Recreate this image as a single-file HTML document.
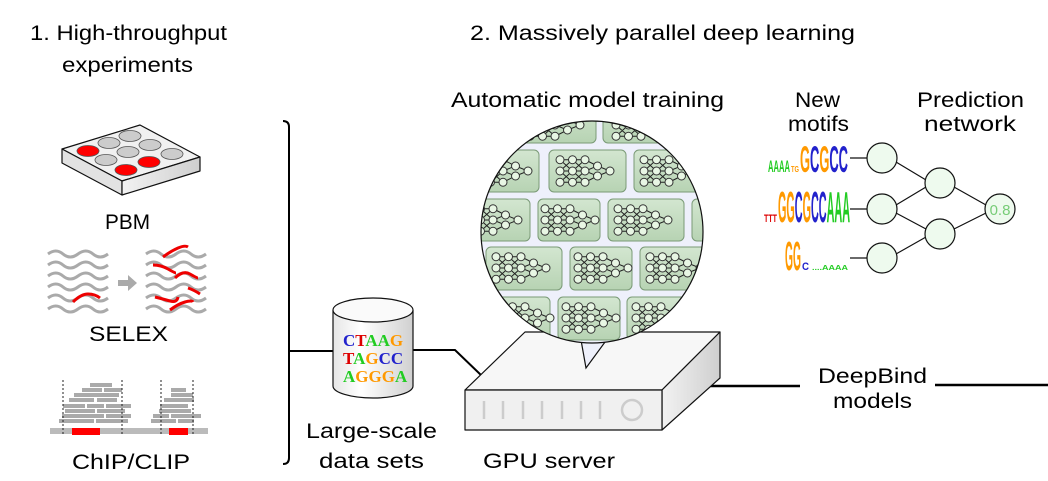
<!DOCTYPE html>
<html><head><meta charset="utf-8"><style>
html,body{margin:0;padding:0;background:#fff;}
svg{display:block;font-family:"Liberation Sans",Arial,sans-serif;}
</style></head><body>
<svg width="1048" height="481" viewBox="0 0 1048 481" xmlns="http://www.w3.org/2000/svg">
<defs>
<linearGradient id="tileg" x1="0" y1="0" x2="0" y2="1"><stop offset="0" stop-color="#d3e6d0"/><stop offset="1" stop-color="#b7d3b3"/></linearGradient>
<linearGradient id="cyl" x1="0" y1="0" x2="1" y2="0"><stop offset="0" stop-color="#e6e6e6"/><stop offset="0.35" stop-color="#fff"/><stop offset="1" stop-color="#d0d0d0"/></linearGradient>
<linearGradient id="side" x1="0" y1="0" x2="1" y2="0"><stop offset="0" stop-color="#f2f2f2"/><stop offset="1" stop-color="#cfcfcf"/></linearGradient>
<clipPath id="bub"><circle cx="592" cy="232" r="111"/></clipPath>
<g id="net">
<g stroke="#222" stroke-width="0.8" fill="none">
<path d="M0,-9 L10,-9 L20,-9 M0,0 L10,0 L20,0 M0,9 L10,9 L20,9 M0,-9 L10,0 L0,9 M10,-9 L0,0 L10,9 M10,-9 L20,0 L10,9 M20,-9 L10,0 L20,9 M20,-9 L30,-4 L20,0 L30,4 L20,9 M30,-4 L40,0 L30,4"/>
</g>
<g fill="#e8f6e4" stroke="#333" stroke-width="0.8">
<circle cx="0" cy="-9" r="3.2"/><circle cx="0" cy="0" r="3.2"/><circle cx="0" cy="9" r="3.2"/>
<circle cx="10" cy="-9" r="3.2"/><circle cx="10" cy="0" r="3.2"/><circle cx="10" cy="9" r="3.2"/>
<circle cx="20" cy="-9" r="3.2"/><circle cx="20" cy="0" r="3.2"/><circle cx="20" cy="9" r="3.2"/>
<circle cx="30" cy="-4" r="3.2"/><circle cx="30" cy="4" r="3.2"/><circle cx="40" cy="0" r="3.2"/>
</g>
</g>
</defs>

<!-- titles -->
<g font-size="21" fill="#000">
<text x="30" y="40" textLength="197" lengthAdjust="spacingAndGlyphs">1. High-throughput</text>
<text x="62" y="72" textLength="131" lengthAdjust="spacingAndGlyphs">experiments</text>
<text x="470" y="40" textLength="385" lengthAdjust="spacingAndGlyphs">2. Massively parallel deep learning</text>
<text x="451" y="107" textLength="273" lengthAdjust="spacingAndGlyphs">Automatic model training</text>
<text x="795" y="107" textLength="45" lengthAdjust="spacingAndGlyphs">New</text>
<text x="788" y="131" textLength="61" lengthAdjust="spacingAndGlyphs">motifs</text>
<text x="917" y="107" textLength="107" lengthAdjust="spacingAndGlyphs">Prediction</text>
<text x="924" y="131" textLength="92" lengthAdjust="spacingAndGlyphs">network</text>
<text x="105" y="229" textLength="45" lengthAdjust="spacingAndGlyphs">PBM</text>
<text x="89" y="341" textLength="79" lengthAdjust="spacingAndGlyphs">SELEX</text>
<text x="72" y="469" textLength="118" lengthAdjust="spacingAndGlyphs">ChIP/CLIP</text>
<text x="306" y="438" textLength="131" lengthAdjust="spacingAndGlyphs">Large-scale</text>
<text x="319" y="468" textLength="105" lengthAdjust="spacingAndGlyphs">data sets</text>
<text x="483" y="468" textLength="132" lengthAdjust="spacingAndGlyphs">GPU server</text>
<text x="818" y="383" textLength="109" lengthAdjust="spacingAndGlyphs">DeepBind</text>
<text x="833" y="408" textLength="79" lengthAdjust="spacingAndGlyphs">models</text>
</g>

<!-- PBM plate -->
<g stroke="#111" stroke-width="1.2" stroke-linejoin="round">
<polygon points="62,149 140,125 200,157 122,181" fill="#f1f1f1"/>
<polygon points="62,149 122,181 122,195 62,163" fill="#e2e2e2"/>
<polygon points="122,181 200,157 200,171 122,195" fill="url(#side)"/>
</g>
<g stroke="#555" stroke-width="0.8">
<ellipse cx="88" cy="151" rx="11" ry="5.5" fill="#f00"/>
<ellipse cx="109" cy="143" rx="11" ry="5.5" fill="#ccc"/>
<ellipse cx="130" cy="136" rx="11" ry="5.5" fill="#ccc"/>
<ellipse cx="106" cy="160" rx="11" ry="5.5" fill="#ccc"/>
<ellipse cx="128" cy="152" rx="11" ry="5.5" fill="#ccc"/>
<ellipse cx="150" cy="145" rx="11" ry="5.5" fill="#ccc"/>
<ellipse cx="126" cy="170" rx="11" ry="5.5" fill="#f00"/>
<ellipse cx="149" cy="162" rx="11" ry="5.5" fill="#f00"/>
<ellipse cx="172" cy="154" rx="11" ry="5.5" fill="#ccc"/>
</g>

<!-- SELEX -->
<g fill="none" stroke="#aaa" stroke-width="3">
<path d="M48,254 q8,-6 15,0 t15,0 t15,0 t15,0"/>
<path d="M48,265 q8,-6 15,0 t15,0 t15,0 t15,0"/>
<path d="M48,276 q8,-6 15,0 t15,0 t15,0 t15,0"/>
<path d="M48,287 q8,-6 15,0 t15,0 t15,0 t15,0"/>
<path d="M48,298 q8,-6 15,0 t15,0 t15,0 t15,0"/>
<path d="M48,309 q8,-6 15,0 t15,0 t15,0 t15,0"/>
<path d="M146,254 q8,-6 15,0 t15,0 t15,0 t15,0"/>
<path d="M146,265 q8,-6 15,0 t15,0 t15,0 t15,0"/>
<path d="M146,276 q8,-6 15,0 t15,0 t15,0 t15,0"/>
<path d="M146,287 q8,-6 15,0 t15,0 t15,0 t15,0"/>
<path d="M146,298 q8,-6 15,0 t15,0 t15,0 t15,0"/>
<path d="M146,309 q8,-6 15,0 t15,0 t15,0 t15,0"/>
</g>
<g fill="none" stroke="#e00" stroke-width="3">
<path d="M73,302 q8,-8 15,-8 t12,4"/>
<path d="M163,257 q8,-6 15,-9 t10,-1"/>
<path d="M153,265 q8,0 15,4 t8,4"/>
<path d="M175,278 q8,-8 15,-4 t8,4"/>
<path d="M188,288 q6,2 12,6"/>
<path d="M155,297 q8,2 15,4 t8,-4"/>
<path d="M170,310 q8,-6 15,-8 t8,0"/>
</g>
<polygon points="118,280 128,280 128,275 137,283 128,291 128,286 118,286" fill="#aaa"/>

<!-- ChIP -->
<rect x="50" y="428" width="158" height="6" fill="#bbb"/>
<g fill="#aaa">
<rect x="59" y="419" width="35" height="4"/><rect x="96" y="419" width="32" height="4"/>
<rect x="62" y="414" width="42" height="4"/><rect x="106" y="414" width="25" height="4"/>
<rect x="65" y="409" width="30" height="4"/><rect x="97" y="409" width="28" height="4"/>
<rect x="63" y="404" width="22" height="4"/><rect x="87" y="404" width="17" height="4"/><rect x="106" y="404" width="25" height="4"/>
<rect x="69" y="398" width="25" height="4"/><rect x="97" y="398" width="20" height="4"/>
<rect x="74" y="393" width="45" height="4"/>
<rect x="82" y="388" width="20" height="4"/><rect x="104" y="388" width="18" height="4"/>
<rect x="90" y="383" width="22" height="4"/>
<rect x="151" y="419" width="25" height="4"/><rect x="178" y="419" width="16" height="4"/>
<rect x="153" y="414" width="16" height="4"/><rect x="171" y="414" width="30" height="4"/>
<rect x="159" y="409" width="32" height="4"/>
<rect x="160" y="404" width="28" height="4"/>
<rect x="164" y="398" width="30" height="4"/>
<rect x="171" y="393" width="22" height="4"/>
<rect x="171" y="388" width="15" height="4"/>
</g>
<rect x="72" y="428" width="28" height="7" fill="#f00"/>
<rect x="169" y="428" width="19" height="7" fill="#f00"/>
<g stroke="#222" stroke-width="1" stroke-dasharray="2,2">
<line x1="63" y1="380" x2="63" y2="436"/><line x1="122" y1="380" x2="122" y2="436"/>
<line x1="161" y1="380" x2="161" y2="436"/><line x1="193" y1="380" x2="193" y2="436"/>
</g>

<!-- bracket and lines -->
<g fill="none" stroke="#000" stroke-width="2">
<path d="M283,121 q6,0 6,6 L289,458 q0,6 -6,6"/>
<line x1="289" y1="351" x2="334" y2="351"/>
<path d="M412,350 L455,350 L482,376"/>
<line x1="692" y1="386" x2="800" y2="386" stroke-width="2.5"/>
<line x1="935" y1="385" x2="1048" y2="385" stroke-width="2.5"/>
</g>

<!-- cylinder -->
<path d="M333,310 L333,386 A40,12 0 0 0 413,386 L413,310" fill="url(#cyl)" stroke="#111" stroke-width="1.2"/>
<ellipse cx="373" cy="310" rx="40" ry="12" fill="#fafafa" stroke="#111" stroke-width="1.2"/>
<g font-family="'Liberation Serif',serif" font-weight="bold" font-size="17">
<text x="343" y="346"><tspan fill="#22c">C</tspan><tspan fill="#d00">T</tspan><tspan fill="#2c2">A</tspan><tspan fill="#2c2">A</tspan><tspan fill="#f90">G</tspan></text>
<text x="343" y="364"><tspan fill="#d00">T</tspan><tspan fill="#2c2">A</tspan><tspan fill="#f90">G</tspan><tspan fill="#22c">C</tspan><tspan fill="#22c">C</tspan></text>
<text x="343" y="382"><tspan fill="#2c2">A</tspan><tspan fill="#f90">G</tspan><tspan fill="#f90">G</tspan><tspan fill="#f90">G</tspan><tspan fill="#2c2">A</tspan></text>
</g>

<!-- server -->
<g stroke="#111" stroke-width="1.2" stroke-linejoin="round">
<polygon points="465,390 525,332 720,332 662,390" fill="#f7f7f7"/>
<polygon points="662,390 720,332 720,378 662,430" fill="url(#side)"/>
<rect x="465" y="390" width="197" height="40" fill="#f0f0f0"/>
</g>
<g stroke="#ccc" stroke-width="2.5">
<line x1="484" y1="401" x2="484" y2="419"/><line x1="503" y1="401" x2="503" y2="419"/>
<line x1="523" y1="401" x2="523" y2="419"/><line x1="542" y1="401" x2="542" y2="419"/>
<line x1="562" y1="401" x2="562" y2="419"/><line x1="581" y1="401" x2="581" y2="419"/>
<line x1="600" y1="401" x2="600" y2="419"/>
</g>
<circle cx="632" cy="410" r="10" fill="none" stroke="#ccc" stroke-width="2.5"/>

<!-- bubble -->
<path d="M581,340 L586,368 L608,338 Z" fill="#eef0fb" stroke="#111" stroke-width="1.2"/>
<circle cx="592" cy="232" r="111" fill="#eef0fb"/>
<g clip-path="url(#bub)">
<g fill="url(#tileg)" stroke="#7a9a76" stroke-width="1">
<rect x="510" y="100" width="86" height="43" rx="5"/><rect x="603" y="100" width="100" height="43" rx="5"/>
<rect x="460" y="150" width="79" height="42" rx="5"/><rect x="549" y="150" width="77" height="42" rx="5"/><rect x="634" y="150" width="70" height="42" rx="5"/>
<rect x="460" y="199" width="70" height="42" rx="5"/><rect x="538" y="199" width="62" height="42" rx="5"/><rect x="608" y="199" width="76" height="42" rx="5"/><rect x="692" y="199" width="30" height="42" rx="5"/>
<rect x="486" y="247" width="76" height="43" rx="5"/><rect x="570" y="247" width="62" height="43" rx="5"/><rect x="640" y="247" width="70" height="43" rx="5"/>
<rect x="460" y="297" width="90" height="43" rx="5"/><rect x="558" y="297" width="62" height="43" rx="5"/><rect x="627" y="297" width="80" height="43" rx="5"/>
</g>
<use href="#net" transform="translate(560,171) scale(1.25)"/><use href="#net" transform="translate(644,171) scale(1.25)"/><use href="#net" transform="translate(478,171) scale(1.25)"/>
<use href="#net" transform="translate(545,220) scale(1.25)"/><use href="#net" transform="translate(618,220) scale(1.25)"/><use href="#net" transform="translate(468,220) scale(1.25)"/>
<use href="#net" transform="translate(496,268) scale(1.25)"/><use href="#net" transform="translate(578,268) scale(1.25)"/><use href="#net" transform="translate(650,268) scale(1.25)"/>
<use href="#net" transform="translate(500,318) scale(1.25)"/><use href="#net" transform="translate(566,318) scale(1.25)"/><use href="#net" transform="translate(636,318) scale(1.25)"/>
<use href="#net" transform="translate(530,125) scale(1.25)"/><use href="#net" transform="translate(616,125) scale(1.25)"/>
</g>
<circle cx="592" cy="232" r="111" fill="none" stroke="#111" stroke-width="1.2"/>

<!-- prediction network -->
<g stroke="#111" stroke-width="1.2" fill="none">
<line x1="850" y1="158" x2="867" y2="158"/><line x1="850" y1="209" x2="867" y2="209"/><line x1="850" y1="258" x2="867" y2="258"/>
<path d="M896,162 L926,180 M896,205 L926,187 M896,213 L926,229 M896,254 L926,237 M954,187 L986,205 M954,229 L986,213"/>
</g>
<g fill="#eefaee" stroke="#111" stroke-width="1.2">
<circle cx="882" cy="158" r="15"/><circle cx="882" cy="209" r="15"/><circle cx="882" cy="258" r="15"/>
<circle cx="940" cy="183" r="15"/><circle cx="940" cy="234" r="15"/><circle cx="1000" cy="209" r="15"/>
</g>
<text x="1000" y="215" font-size="15" fill="#7c7" text-anchor="middle">0.8</text>

<!-- motif logos -->
<g font-weight="bold" font-family="'Liberation Sans',sans-serif">
<text x="768" y="172" font-size="17" fill="#2c2" textLength="22" lengthAdjust="spacingAndGlyphs">AAAA</text>
<text x="791" y="172" font-size="8" fill="#f90" textLength="8" lengthAdjust="spacingAndGlyphs">TG</text>
<text x="800" y="172" font-size="37" textLength="48" lengthAdjust="spacingAndGlyphs"><tspan fill="#f90">G</tspan><tspan fill="#22c">C</tspan><tspan fill="#f90">G</tspan><tspan fill="#22c">CC</tspan></text>
<text x="764" y="222" font-size="11" fill="#d00" textLength="13" lengthAdjust="spacingAndGlyphs">TTT</text>
<text x="778" y="222" font-size="44" textLength="72" lengthAdjust="spacingAndGlyphs"><tspan fill="#f90">GG</tspan><tspan fill="#22c">C</tspan><tspan fill="#f90">G</tspan><tspan fill="#22c">CC</tspan><tspan fill="#2c2">AAA</tspan></text>
<text x="785" y="270" font-size="41" fill="#f90" textLength="16" lengthAdjust="spacingAndGlyphs">GG</text>
<text x="802" y="270" font-size="11" fill="#22c" textLength="7" lengthAdjust="spacingAndGlyphs">C</text>
<text x="812" y="270" font-size="7" fill="#2c2" textLength="36" lengthAdjust="spacingAndGlyphs">....AAAA</text>
</g>
</svg>
</body></html>
